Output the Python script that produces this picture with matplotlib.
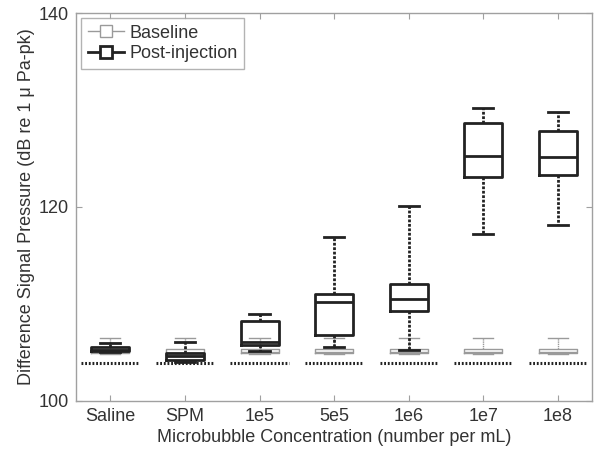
import matplotlib
matplotlib.use('Agg')
import matplotlib.pyplot as plt
from matplotlib.lines import Line2D

# categories and box stats (dB)
labels = ['Saline', 'SPM', '1e5', '5e5', '1e6', '1e7', '1e8']

base_lo = [104.8, 104.7, 104.8, 104.8, 104.8, 104.8, 104.8]
base_q1 = [104.9, 104.7, 104.9, 104.9, 104.9, 104.9, 104.9]
base_med = [105.0, 104.9, 105.0, 105.0, 105.0, 105.0, 105.0]
base_q3 = [105.4, 105.4, 105.4, 105.4, 105.4, 105.4, 105.4]
base_hi = [106.5, 106.5, 106.5, 106.5, 106.5, 106.5, 106.5]

post_lo = [105.0, 104.0, 105.2, 105.6, 105.3, 117.2, 118.1]
post_q1 = [105.1, 104.2, 105.8, 106.8, 109.3, 123.1, 123.3]
post_med = [105.3, 104.6, 106.1, 110.2, 110.5, 125.3, 125.2]
post_q3 = [105.6, 104.9, 108.2, 111.0, 112.1, 128.7, 127.8]
post_hi = [106.0, 106.1, 109.0, 116.9, 120.1, 130.2, 129.8]

floor_level = [103.9, 103.9, 103.9, 103.9, 103.9, 103.9, 103.9]

plt.rcParams['font.family'] = ['Liberation Sans', 'DejaVu Sans']
plt.rcParams['font.size'] = 13

fig = plt.figure(figsize=(5.94, 4.49), dpi=100)
ax = fig.add_axes([0.128, 0.107, 0.869, 0.864])

pos = list(range(1, len(labels) + 1))

def make_stats(lo, q1, med, q3, hi):
    return [dict(whislo=a, q1=b, med=c, q3=d, whishi=e, fliers=[])
            for a, b, c, d, e in zip(lo, q1, med, q3, hi)]

gray = '#9a9a9a'
dark = '#222222'
txt = '#333333'
dots = (0, (1, 0.6))

# dotted floor lines
for p, f in zip(pos, floor_level):
    ax.hlines(f, p - 0.39, p + 0.39, colors=dark, linewidth=2.2,
              linestyles=(0, (0.6, 0.6)), zorder=1)

ax.bxp(make_stats(base_lo, base_q1, base_med, base_q3, base_hi), positions=pos,
       widths=0.51, showfliers=False,
       boxprops=dict(color=gray, linewidth=1.0),
       medianprops=dict(color=gray, linewidth=1.0),
       whiskerprops=dict(color=gray, linewidth=1.0, linestyle=dots),
       capprops=dict(color=gray, linewidth=1.0),
       capwidths=0.27, zorder=2)

ax.bxp(make_stats(post_lo, post_q1, post_med, post_q3, post_hi), positions=pos,
       widths=0.51, showfliers=False,
       boxprops=dict(color=dark, linewidth=2.0),
       medianprops=dict(color=dark, linewidth=2.0),
       whiskerprops=dict(color=dark, linewidth=2.0, linestyle=dots),
       capprops=dict(color=dark, linewidth=2.0),
       capwidths=0.27, zorder=3)

ax.set_xlim(0.54, 7.46)
ax.set_ylim(100, 140)
ax.set_yticks([100, 120, 140])
ax.set_xticks(pos)
ax.set_xticklabels(labels)

for s in ax.spines.values():
    s.set_color('#a0a0a0')
    s.set_linewidth(1.0)
ax.tick_params(direction='in', length=4, color='#a0a0a0', labelcolor=txt,
               labelsize=13, top=True, right=True, pad=5)

ax.set_xlabel('Microbubble Concentration (number per mL)', color=txt, fontsize=13, labelpad=3)
ax.set_ylabel('Difference Signal Pressure (dB re 1 \u03bc Pa-pk)', color=txt, fontsize=13, labelpad=3)

handles = [
    Line2D([], [], color=gray, linewidth=1.0, marker='s', markersize=8,
           markerfacecolor='white', markeredgecolor=gray, markeredgewidth=1.0),
    Line2D([], [], color=dark, linewidth=2.0, marker='s', markersize=8,
           markerfacecolor='white', markeredgecolor=dark, markeredgewidth=2.0),
]
leg = ax.legend(handles, ['Baseline', 'Post-injection'], loc='upper left',
                fontsize=13, fancybox=False, edgecolor='#a0a0a0',
                borderaxespad=0.3, handlelength=2.0, handletextpad=0.3,
                labelspacing=0.2, borderpad=0.35)
leg.get_frame().set_linewidth(1.0)
for t in leg.get_texts():
    t.set_color(txt)

fig.savefig('out.png', dpi=100)
